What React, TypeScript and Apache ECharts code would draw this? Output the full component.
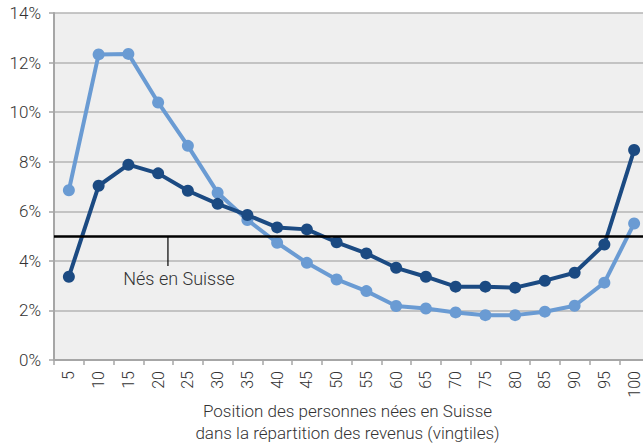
import React, { useEffect, useRef } from "react";
import * as echarts from "echarts";

const categories = ["5", "10", "15", "20", "25", "30", "35", "40", "45", "50", "55", "60", "65", "70", "75", "80", "85", "90", "95", "100"];
const lightValues = [6.85, 12.33, 12.35, 10.39, 8.64, 6.75, 5.65, 4.73, 3.92, 3.25, 2.78, 2.18, 2.08, 1.92, 1.81, 1.81, 1.95, 2.19, 3.12, 5.51];
const darkValues = [3.36, 7.03, 7.88, 7.53, 6.83, 6.3, 5.85, 5.35, 5.27, 4.75, 4.3, 3.72, 3.36, 2.96, 2.96, 2.92, 3.2, 3.52, 4.66, 8.47];
const referenceValue = 5;
const referenceLabel = "Nés en Suisse";
const xAxisName = "Position des personnes nées en Suisse\ndans la répartition des revenus (vingtiles)";

const FONT = "Roboto";
const W = 300;
const FS = 17;

export default function App() {
  const ref = useRef<HTMLDivElement>(null);
  useEffect(() => {
    document.body.style.margin = "0";
    if (!ref.current) return;
    const chart = echarts.init(ref.current, null, { renderer: "svg" });
    chart.setOption({
      animation: false,
      backgroundColor: "#ffffff",
      textStyle: { fontFamily: FONT, fontWeight: W },
      grid: {
        left: 54,
        top: 13,
        right: -6,
        bottom: 85,
        containLabel: false,
        outerBoundsMode: "none",
        show: true,
        backgroundColor: "#efefef",
        borderWidth: 0,
      },
      xAxis: {
        type: "category",
        data: categories,
        boundaryGap: true,
        axisLine: { lineStyle: { color: "#a6a6a6", width: 2 } },
        axisTick: { show: true, length: 5, alignWithLabel: false, lineStyle: { color: "#a6a6a6", width: 1.5 } },
        axisLabel: { rotate: 90, fontSize: 16, color: "#333333", margin: 11, fontFamily: FONT, fontWeight: W },
        splitLine: { show: false },
      },
      yAxis: {
        type: "value",
        min: 0,
        max: 14,
        interval: 2,
        axisLine: { show: true, lineStyle: { color: "#a6a6a6", width: 2 } },
        axisTick: { show: true, length: 5, lineStyle: { color: "#a6a6a6", width: 1.5 } },
        axisLabel: { formatter: "{value}%", fontSize: FS, color: "#333333", margin: 13, fontFamily: FONT, fontWeight: W },
        splitLine: { show: true, lineStyle: { color: "#b4b4b4", width: 1.5 } },
      },
      series: [
        {
          type: "line",
          data: lightValues,
          symbol: "circle",
          symbolSize: 12,
          lineStyle: { color: "#6a9bd3", width: 4 },
          itemStyle: { color: "#6a9bd3" },
          z: 2,
        },
        {
          type: "line",
          data: darkValues,
          symbol: "circle",
          symbolSize: 12,
          lineStyle: { color: "#1b4a82", width: 4 },
          itemStyle: { color: "#1b4a82" },
          z: 3,
          markLine: {
            silent: true,
            symbol: "none",
            label: { show: false },
            lineStyle: { color: "#000000", width: 2.5, type: "solid" },
            data: [{ yAxis: referenceValue }],
          },
        },
      ],
    });
    const a = chart.convertToPixel({ gridIndex: 0 }, [3, referenceValue]) as number[];
    const b = chart.convertToPixel({ gridIndex: 0 }, [4, referenceValue]) as number[];
    const first = chart.convertToPixel({ gridIndex: 0 }, [0, 0]) as number[];
    const last = chart.convertToPixel({ gridIndex: 0 }, [categories.length - 1, 0]) as number[];
    if (a && b && first && last) {
      const x = a[0] + (b[0] - a[0]) * 0.33;
      const y = a[1];
      const cx = (first[0] + last[0]) / 2 - 4;
      chart.setOption({
        graphic: [
          {
            type: "line",
            shape: { x1: x, y1: y, x2: x, y2: y + 30 },
            style: { stroke: "#000000", lineWidth: 1.2 },
            z: 10,
          },
          {
            type: "text",
            x: x + 11,
            y: y + 42,
            style: {
              text: referenceLabel,
              fontSize: 18,
              fontFamily: FONT,
              fontWeight: W,
              fill: "#333333",
              align: "center",
              verticalAlign: "middle",
            },
            z: 10,
          },
          {
            type: "text",
            x: cx,
            y: first[1] + 40,
            style: {
              text: xAxisName,
              fontSize: FS,
              lineHeight: 22,
              fontFamily: FONT,
              fontWeight: W,
              fill: "#333333",
              align: "center",
              verticalAlign: "top",
            },
            z: 10,
          },
        ],
      });
    }
    return () => chart.dispose();
  }, []);
  return <div ref={ref} style={{ width: 643, height: 445 }} />;
}
